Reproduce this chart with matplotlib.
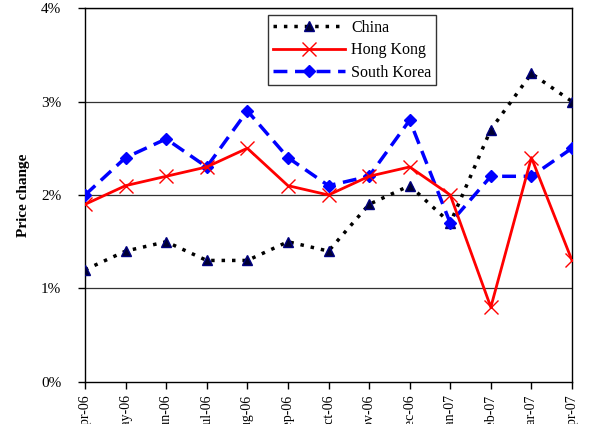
import matplotlib.pyplot as plt
import numpy as np

months = ["Apr-06", "May-06", "Jun-06", "Jul-06", "Aug-06", "Sep-06", "Oct-06",
          "Nov-06", "Dec-06", "Jan-07", "Feb-07", "Mar-07", "Apr-07"]
china = [1.2, 1.4, 1.5, 1.3, 1.3, 1.5, 1.4, 1.9, 2.1, 1.7, 2.7, 3.3, 3.0]
hong_kong = [1.9, 2.1, 2.2, 2.3, 2.5, 2.1, 2.0, 2.2, 2.3, 2.0, 0.8, 2.4, 1.3]
south_korea = [2.0, 2.4, 2.6, 2.3, 2.9, 2.4, 2.1, 2.2, 2.8, 1.7, 2.2, 2.2, 2.5]
yticks = [0, 1, 2, 3, 4]

plt.rcParams['font.family'] = ['Liberation Serif', 'DejaVu Serif']

fig = plt.figure(figsize=(5.92, 4.24), dpi=100)
ax = fig.add_axes([0.1436, 0.0991, 0.8226, 0.882])

x = np.arange(len(months))

# gridlines at each whole percent
for v in yticks[1:]:
    ax.axhline(v, color='#333333', lw=0.9, zorder=1)

ax.plot(x, china, color='black', lw=2.5, dashes=(1, 2),
        marker='^', markersize=6.5, markerfacecolor='#000033',
        markeredgecolor='#000080', label='China', zorder=3)
ax.plot(x, hong_kong, color='#FF0000', lw=2,
        marker='x', markersize=10, markeredgewidth=1,
        label='Hong Kong', zorder=4)
ax.plot(x, south_korea, color='#0000FF', lw=2.5, dashes=(4, 2.2),
        marker='D', markersize=6, label='South Korea', zorder=3)

ax.set_xlim(0, len(months) - 1)
ax.set_ylim(0, 4)
ax.set_yticks(yticks)
ax.set_yticklabels([f"{v}%" for v in yticks], fontsize=11)
ax.set_xticks(x)
ax.set_xticklabels(months, rotation=90, fontsize=10)
ax.tick_params(axis='both', direction='out', length=5, width=1)
ax.tick_params(axis='y', pad=12)
ax.tick_params(axis='x', pad=4)

for s in ax.spines.values():
    s.set_linewidth(1)
    s.set_color('black')

ax.set_ylabel('Price change', fontsize=11, fontweight='bold', labelpad=8)

leg = ax.legend(loc='upper left', bbox_to_anchor=(0.37, 0.99), fontsize=11.5,
                frameon=True, fancybox=False, edgecolor='black',
                handlelength=4.5, borderpad=0.3, labelspacing=0.4,
                handletextpad=0.4, borderaxespad=0.2)
leg.get_frame().set_linewidth(1)

fig.savefig('out.png', dpi=100)
